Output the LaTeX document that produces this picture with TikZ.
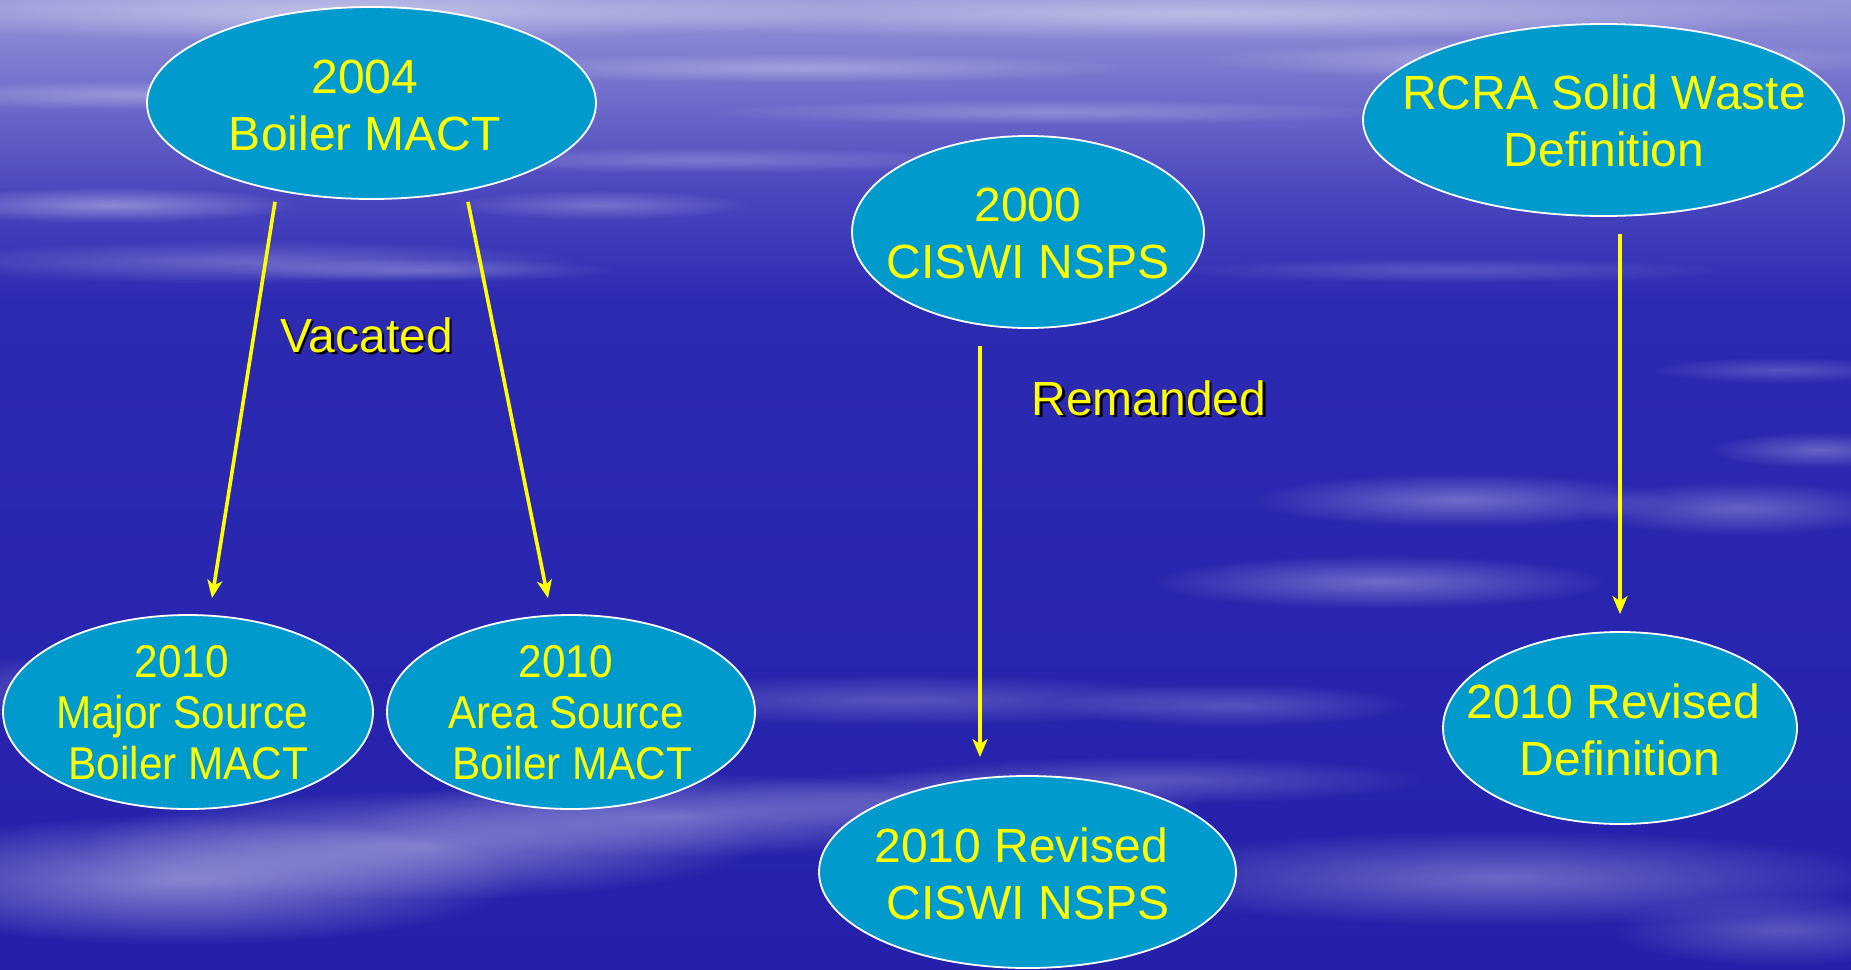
\documentclass[tikz,border=0pt]{standalone}
\usepackage{fontspec}
\setmainfont{Liberation Sans}
\newfontfamily\narrowsans[FakeStretch=0.92]{Liberation Sans}
\usetikzlibrary{shapes.geometric,arrows.meta,calc,fadings}

\definecolor{skytop}{HTML}{9494D8}
\definecolor{skymid}{HTML}{4B47BE}
\definecolor{skydeep}{HTML}{2D2AB2}
\definecolor{skylow}{HTML}{2420AA}
\definecolor{ovalfill}{HTML}{009ACC}
\definecolor{labelyellow}{HTML}{FFFF00}

% soft radial blob used for the cloud streaks
\tikzfading[name=softblob, inner color=transparent!0, outer color=transparent!100]

\tikzset{
  oval/.style={ellipse, draw=white, line width=0.9pt, fill=ovalfill, inner sep=0pt},
  ovaltext/.style={text=labelyellow, align=center, inner sep=0pt,
    font=\fontsize{24}{28.5}\selectfont},
  narrowtext/.style={text=labelyellow, align=center, inner sep=0pt,
    font=\narrowsans\fontsize{23}{25.5}\selectfont},
  flow/.style={draw=labelyellow, line width=1.8pt,
    -{Stealth[length=9pt,width=7.5pt,inset=2.5pt]}},
  tag/.style={text=labelyellow, anchor=base, inner sep=0pt,
    font=\fontsize{24}{28.5}\selectfont},
  wisp/.style={fill=white, fill opacity=#1, path fading=softblob},
}
% yellow word with a small black drop shadow
\newcommand{\shadowword}[1]{\makebox[0pt][l]{\hspace{1.2pt}\raisebox{-1.2pt}{\color{black}#1}}#1}
% blank of one word space, used to offset a centred line
\newcommand{\linegap}{\makebox[0.278em]{}}

\begin{document}
\begin{tikzpicture}[x=0.5pt,y=-0.5pt]
\useasboundingbox (0,0) rectangle (1851,969);

% sky
\shade[top color=skytop, bottom color=skymid] (0,0) rectangle (1851,190);
\shade[top color=skymid, bottom color=skydeep] (0,190) rectangle (1851,300);
\shade[top color=skydeep, bottom color=skylow] (0,300) rectangle (1851,969);

% cloud streaks, upper part
\fill[wisp=0.45] (350,12) ellipse [x radius=520, y radius=30];
\fill[wisp=0.40] (1200,14) ellipse [x radius=680, y radius=26];
\fill[wisp=0.35] (1550,60) ellipse [x radius=350, y radius=20];
\fill[wisp=0.30] (800,68) ellipse [x radius=340, y radius=15];
\fill[wisp=0.30] (150,95) ellipse [x radius=280, y radius=15];
\fill[wisp=0.25] (1050,112) ellipse [x radius=350, y radius=13];
\fill[wisp=0.22] (700,160) ellipse [x radius=320, y radius=13];
\fill[wisp=0.38] (110,205) ellipse [x radius=190, y radius=18];
\fill[wisp=0.25] (250,262) ellipse [x radius=340, y radius=22];
\fill[wisp=0.25] (600,205) ellipse [x radius=150, y radius=15];
\fill[wisp=0.22] (420,270) ellipse [x radius=200, y radius=12];
\fill[wisp=0.18] (1450,270) ellipse [x radius=280, y radius=13];

% cloud streaks, right middle
\fill[wisp=0.20] (1780,370) ellipse [x radius=130, y radius=13];
\fill[wisp=0.28] (1820,450) ellipse [x radius=110, y radius=18];
\fill[wisp=0.32] (1460,500) ellipse [x radius=210, y radius=27];
\fill[wisp=0.28] (1740,508) ellipse [x radius=160, y radius=27];
\fill[wisp=0.32] (1380,582) ellipse [x radius=230, y radius=27];
\fill[wisp=0.22] (1230,705) ellipse [x radius=180, y radius=22];

% cloud streaks, lower part (the left band climbs towards the right)
\fill[wisp=0.22] (60,690) ellipse [x radius=140, y radius=36];
\fill[wisp=0.22] (900,700) ellipse [x radius=320, y radius=26];
\fill[wisp=0.24] (1150,780) ellipse [x radius=280, y radius=24];
\fill[wisp=0.45] (180,880) ellipse [x radius=340, y radius=65];
\fill[wisp=0.40] (420,845) ellipse [x radius=340, y radius=55];
\fill[wisp=0.35] (680,815) ellipse [x radius=320, y radius=42];
\fill[wisp=0.25] (950,800) ellipse [x radius=260, y radius=30];
\fill[wisp=0.32] (1500,878) ellipse [x radius=400, y radius=48];
\fill[wisp=0.24] (1780,930) ellipse [x radius=170, y radius=36];

% ellipses
\node[oval, minimum width=224.5pt, minimum height=96pt] (boiler04)  at (371.5,103) {};
\node[oval, minimum width=176pt,   minimum height=96pt] (ciswi00)   at (1028,232) {};
\node[oval, minimum width=240.5pt, minimum height=96pt] (rcra)      at (1603.5,120) {};
\node[oval, minimum width=185pt,   minimum height=97pt] (major10)   at (188,712) {};
\node[oval, minimum width=184pt,   minimum height=97pt] (area10)    at (571,712) {};
\node[oval, minimum width=208.5pt, minimum height=96pt] (ciswi10)   at (1027.5,872) {};
\node[oval, minimum width=177pt,   minimum height=96pt] (rcra10)    at (1620,728) {};

% ellipse texts
\node[ovaltext]   (boiler04txt) at (365,105.5)   {2004\\Boiler MACT};
\node[ovaltext]   (ciswi00txt)  at (1028,233)    {2000\\CISWI NSPS};
\node[ovaltext]   (rcratxt)     at (1604,121)    {RCRA Solid Waste\\Definition};
\node[narrowtext] (major10txt)  at (182,713)     {2010\\Major Source\\\linegap Boiler MACT};
\node[narrowtext] (area10txt)   at (566,713)     {2010\\Area Source\\\linegap Boiler MACT};
\node[ovaltext]   (ciswi10txt)  at (1028,873.5)  {2010 Revised\linegap\\CISWI NSPS};
\node[ovaltext]   (rcra10txt)   at (1620,729.5)  {2010 Revised\linegap\\Definition};

% connector ends
\coordinate (a1s) at ($(boiler04.south)+(-96.5,2)$);
\coordinate (a1e) at ($(major10.north)+(24,-16)$);
\coordinate (a2s) at ($(boiler04.south)+(96.5,2)$);
\coordinate (a2e) at ($(area10.north)+(-23,-16)$);
\coordinate (a3s) at ($(ciswi00.south)+(-48,17)$);
\coordinate (a3e) at ($(ciswi10.north)+(-47.5,-18)$);
\coordinate (a4s) at ($(rcra.south)+(16.5,17)$);
\coordinate (a4e) at ($(rcra10.north)+(0,-17)$);

% connectors
\draw[flow] (a1s) -- (a1e);
\draw[flow] (a2s) -- (a2e);
\draw[flow] (a3s) -- (a3e);
\draw[flow] (a4s) -- (a4e);

% connector labels
\node[tag] (vacated)  at (366.5,352) {\shadowword{Vacated}};
\node[tag] (remanded) at (1149,415)  {\shadowword{Remanded}};
\end{tikzpicture}
\end{document}
